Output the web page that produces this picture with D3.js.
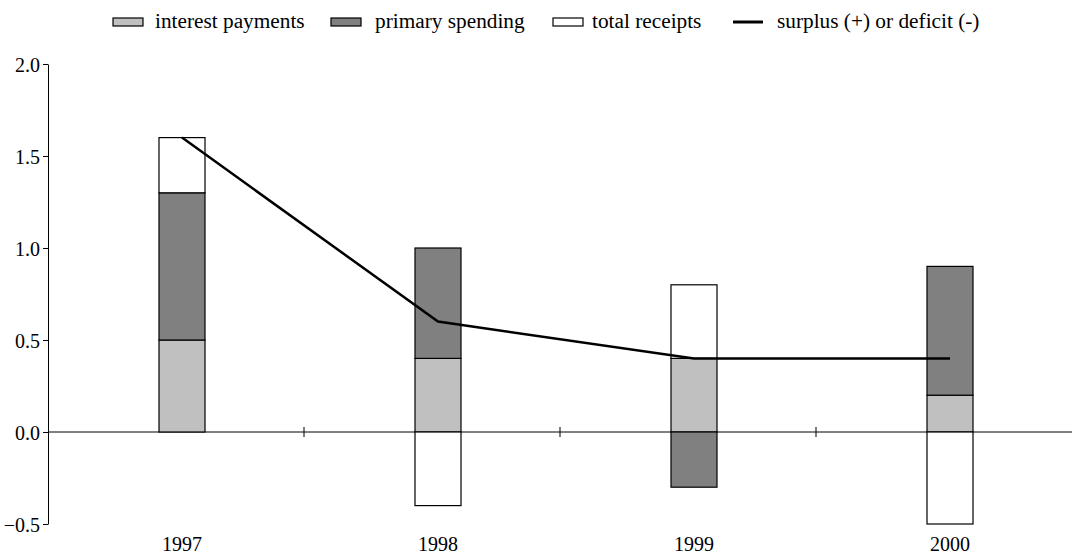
<!DOCTYPE html>
<html><head><meta charset="utf-8">
<script src="https://cdn.jsdelivr.net/npm/d3@7"></script>
<style>body{margin:0;background:#fff}svg{display:block}svg text{font-family:"Liberation Serif","DejaVu Serif","Noto Serif",serif !important;fill:#000}</style>
</head><body><svg id="c" width="1072" height="555"></svg>
<script>
const years = ["1997","1998","1999","2000"];
const interest = [0.5, 0.4, 0.4, 0.2];
const primary = [0.8, 0.6, -0.3, 0.7];
const receipts = [0.3, -0.4, 0.4, -0.5];
const surplus = [1.6, 0.6, 0.4, 0.4];
const yTicks = [-0.5, 0.0, 0.5, 1.0, 1.5, 2.0];
const seriesNames = ["interest payments","primary spending","total receipts","surplus (+) or deficit (-)"];
const fills = ["#c0c0c0","#808080","#ffffff"];

(function(){
const svg = d3.select("#c");
const mLeft = 48, mRight = 1072, mTop = 64, mBottom = 524;
const x = d3.scaleBand().domain(years).range([mLeft, mRight]).padding(0);
const y = d3.scaleLinear().domain([-0.5, 2.0]).range([mBottom, mTop]);
const barW = 46, off = 6;
const cx = d => x(d) + x.bandwidth()/2 + off;

const series = [interest, primary, receipts];
const rects = [];
years.forEach((yr, i) => {
  let pos = 0, neg = 0;
  series.forEach((s, k) => {
    const v = s[i];
    let y0, y1;
    if (v >= 0) { y0 = pos; y1 = pos + v; pos = y1; }
    else { y0 = neg; y1 = neg + v; neg = y1; }
    rects.push({yr, k, y0, y1});
  });
});

svg.append("line").attr("x1", mLeft).attr("x2", mRight).attr("y1", y(0)).attr("y2", y(0))
  .attr("stroke", "#000").attr("stroke-width", 1);
svg.append("g").selectAll("line").data(years.slice(1)).join("line")
  .attr("x1", d => x(d)).attr("x2", d => x(d))
  .attr("y1", y(0) - 5).attr("y2", y(0) + 5)
  .attr("stroke", "#000").attr("stroke-width", 1);

svg.append("g").selectAll("rect").data(rects).join("rect")
  .attr("x", d => cx(d.yr) - barW/2)
  .attr("width", barW)
  .attr("y", d => y(Math.max(d.y0, d.y1)))
  .attr("height", d => Math.abs(y(d.y0) - y(d.y1)))
  .attr("fill", d => fills[d.k])
  .attr("stroke", "#000").attr("stroke-width", 1.2);

const ya = svg.append("g").attr("transform", `translate(${mLeft},0)`)
  .call(d3.axisLeft(y).tickValues(yTicks).tickFormat(d3.format(".1f")).tickSize(5).tickSizeOuter(0));
ya.attr("font-family", null).attr("font-size", null);
ya.select(".domain").attr("stroke", "#000");
ya.selectAll(".tick line").attr("stroke", "#000");
ya.selectAll("text").attr("font-size", 20).attr("fill", "#000").attr("x", -8).attr("dy", "0.35em");

svg.append("g").selectAll("text").data(years).join("text")
  .attr("x", d => cx(d)).attr("y", 551)
  .attr("text-anchor", "middle").attr("font-size", 20).text(d => d);

const line = d3.line().x((d, i) => cx(years[i])).y(d => y(d));
svg.append("path").datum(surplus).attr("d", line)
  .attr("fill", "none").attr("stroke", "#000").attr("stroke-width", 2.5);

const lg = svg.append("g");
const items = [{sx:113, tx:155},{sx:331, tx:375},{sx:553, tx:592},{sx:733, tx:777}];
items.forEach((it, k) => {
  if (k < 3) {
    lg.append("rect").attr("x", it.sx).attr("y", 18).attr("width", 30).attr("height", 8)
      .attr("fill", fills[k]).attr("stroke", "#000").attr("stroke-width", 1.2);
  } else {
    lg.append("line").attr("x1", it.sx).attr("x2", it.sx + 30).attr("y1", 22).attr("y2", 22)
      .attr("stroke", "#000").attr("stroke-width", 3);
  }
  lg.append("text").attr("x", it.tx).attr("y", 28).attr("font-size", 21.3).text(seriesNames[k]);
});
})();
</script></body></html>
